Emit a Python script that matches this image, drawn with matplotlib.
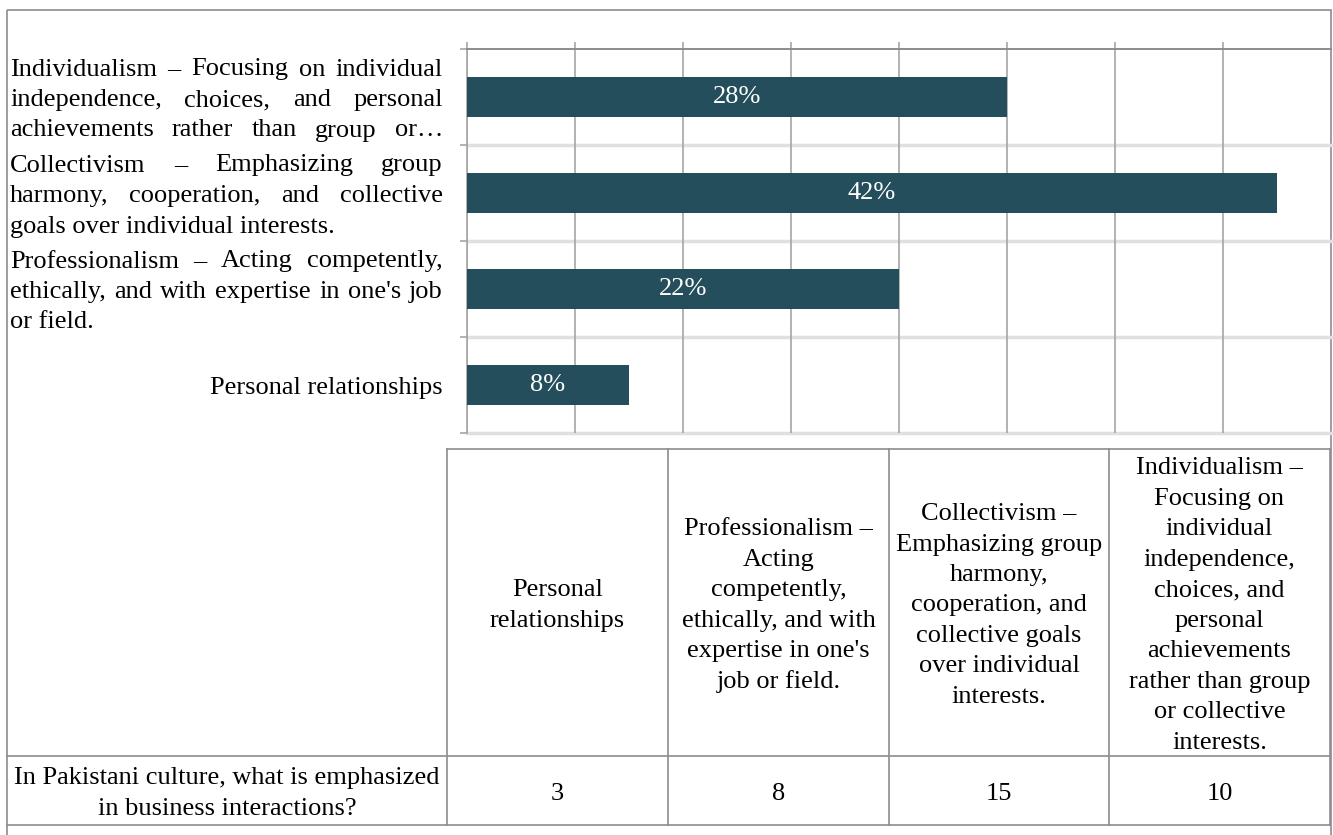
import numpy as np
import matplotlib.pyplot as plt
from matplotlib.patches import Rectangle

plt.rcParams['font.family'] = ['Liberation Serif', 'DejaVu Serif']

W, H = 1333, 835
FS = 19          # text size in points
LINE = 30.5      # line pitch in pixels
BASE = 9         # baseline offset below the visual line centre

# answers as they appear on the bar chart, top to bottom
bar_lines = [
    ["Individualism – Focusing on individual",
     "independence, choices, and personal",
     "achievements rather than group or…"],
    ["Collectivism – Emphasizing group",
     "harmony, cooperation, and collective",
     "goals over individual interests."],
    ["Professionalism – Acting competently,",
     "ethically, and with expertise in one's job",
     "or field."],
    ["Personal relationships"],
]
counts = [10, 15, 8, 3]

# data table underneath (reverse order of the bars)
table_headers = [
    ["Personal", "relationships"],
    ["Professionalism –", "Acting", "competently,", "ethically, and with",
     "expertise in one's", "job or field."],
    ["Collectivism –", "Emphasizing group", "harmony,", "cooperation, and",
     "collective goals", "over individual", "interests."],
    ["Individualism –", "Focusing on", "individual", "independence,",
     "choices, and", "personal", "achievements", "rather than group",
     "or collective", "interests."],
]
table_values = counts[::-1]
row_label = ["In Pakistani culture, what is emphasized", "in business interactions?"]

total = sum(counts)
pct = [round(100 * c / total) for c in counts]

fig = plt.figure(figsize=(W / 100, H / 100), dpi=100)

# overlay in pixel units for the frame, labels and table
over = fig.add_axes([0, 0, 1, 1])
over.set_xlim(0, W)
over.set_ylim(H, 0)
over.axis('off')

# bar chart area
x0, x1, y0, y1 = 467, 1331, 49, 433
ax = fig.add_axes([x0 / W, 1 - y1 / H, (x1 - x0) / W, (y1 - y0) / H])
ypos = np.arange(len(counts))
ax.barh(ypos, counts, height=0.41, color='#244e5b', zorder=3)
for i, (c, p) in enumerate(zip(counts, pct)):
    ax.text(c / 2, i, f"{p}%", color='white', ha='center', va='center',
            fontsize=FS, zorder=4)

ax.set_xlim(0, 16)
ax.set_ylim(3.5, -0.5)
ax.xaxis.tick_top()
ax.set_xticks(np.arange(0, 16, 2))
ax.set_xticklabels([])
ax.set_yticks(np.arange(-0.5, 4, 1))
ax.set_yticklabels([])
ax.tick_params(axis='both', direction='out', length=5, width=1.2, color='#a6a6a6')
ax.grid(axis='x', color='#a6a6a6', lw=1.2, zorder=1)
for yb in [0.5, 1.5, 2.5, 3.5]:
    ax.axhline(yb, color='#e0e0e0', lw=2.5, zorder=1, clip_on=False)
for s in ['right', 'bottom']:
    ax.spines[s].set_visible(False)
ax.spines['top'].set_color('#8c8c8c')
ax.spines['top'].set_linewidth(1.4)
ax.spines['left'].set_color('#a6a6a6')
ax.spines['left'].set_linewidth(1.2)
ax.set_facecolor('none')

renderer = fig.canvas.get_renderer()


def word_width(w):
    t = over.text(0, 0, w, fontsize=FS)
    wd = t.get_window_extent(renderer).width
    t.remove()
    return wd


def justified(line, left, right, y):
    words = line.split(' ')
    widths = [word_width(w) for w in words]
    gap = (right - left - sum(widths)) / (len(words) - 1)
    x = left
    for w, wd in zip(words, widths):
        over.text(x, y, w, ha='left', va='baseline', fontsize=FS)
        x += wd + gap


# category labels left of the bars
lab_left, lab_right = 10, 443
for i, lines in enumerate(bar_lines):
    yc = ax.transData.transform((0, i))[1]
    yc = H - yc
    n = len(lines)
    for k, s in enumerate(lines):
        yb = yc + (k - (n - 1) / 2) * LINE + BASE
        if n == 1:
            over.text(lab_right, yb, s, ha='right', va='baseline', fontsize=FS)
        elif k < n - 1 or s.endswith('…'):
            justified(s, lab_left, lab_right, yb)
        else:
            over.text(lab_left, yb, s, ha='left', va='baseline', fontsize=FS)

# data table
grid_c = '#8c8c8c'
col_edges = [447, 668, 889, 1109, 1330]
t_top, t_mid, t_bot = 449, 756, 825
over.plot([col_edges[0], col_edges[-1]], [t_top, t_top], color=grid_c, lw=1.2)
for yy in [t_mid, t_bot]:
    over.plot([7, col_edges[-1]], [yy, yy], color=grid_c, lw=1.2)
for xx in col_edges:
    over.plot([xx, xx], [t_top, t_bot], color=grid_c, lw=1.2)


def block(lines, xc, yc):
    n = len(lines)
    for k, s in enumerate(lines):
        yb = yc + (k - (n - 1) / 2) * LINE + BASE
        over.text(xc, yb, s, ha='center', va='baseline', fontsize=FS)


for j, (hdr, v) in enumerate(zip(table_headers, table_values)):
    xc = (col_edges[j] + col_edges[j + 1]) / 2
    block(hdr, xc, (t_top + t_mid) / 2)
    block([str(v)], xc, (t_mid + t_bot) / 2)
block(row_label, (7 + col_edges[0]) / 2, (t_mid + t_bot) / 2)

# outer frame
over.add_patch(Rectangle((7, 10), 1324, 850, fill=False, ec=grid_c, lw=1.2,
                         clip_on=False))

fig.savefig('out.png', dpi=100)
